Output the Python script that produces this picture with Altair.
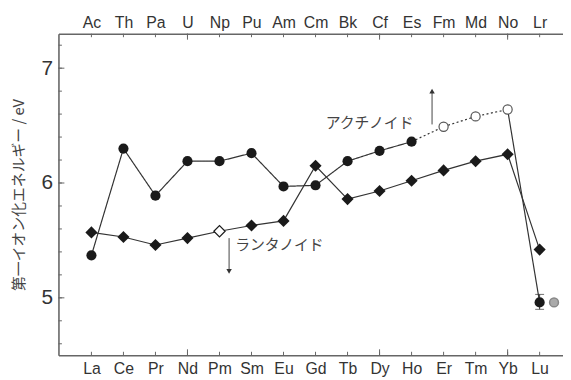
import json
import altair as alt
import pandas as pd

# ---- data ----
lan_names = ["La", "Ce", "Pr", "Nd", "Pm", "Sm", "Eu", "Gd", "Tb", "Dy", "Ho", "Er", "Tm", "Yb", "Lu"]
act_names = ["Ac", "Th", "Pa", "U", "Np", "Pu", "Am", "Cm", "Bk", "Cf", "Es", "Fm", "Md", "No", "Lr"]
lan_ie = [5.57, 5.53, 5.46, 5.52, 5.58, 5.63, 5.67, 6.15, 5.86, 5.93, 6.02, 6.11, 6.19, 6.25, 5.42]
act_ie = [5.37, 6.30, 5.89, 6.19, 6.19, 6.26, 5.97, 5.98, 6.19, 6.28, 6.36, 6.49, 6.58, 6.64, 4.96]
lan_open = ["Pm"]
act_open = ["Fm", "Md", "No"]
lr_err = [4.90, 5.03]
lr_other = [14.45, 4.96]
y_tick_labels = [5, 6, 7]
y_title = "第一イオン化エネルギー / eV"

# annotations (data units)
act_label = {"text": "アクチノイド", "x": 10.06, "y": 6.52}
lan_label = {"text": "ランタノイド", "x": 4.49, "y": 5.46}
act_arrow = {"x": 10.64, "y": 6.51, "y2": 6.80}
lan_arrow = {"x": 4.30, "y": 5.52, "y2": 5.23}

W, H = 510, 325
xscale = alt.Scale(domain=[-1.03, 14.73], nice=False, zero=False)
yscale = alt.Scale(domain=[4.5, 7.3], nice=False, zero=False)
INK = "#1a1a1a"
LINE = "#333333"
AX = "#666666"
LABEL_FONT = "Liberation Sans"
JP_FONT = "Noto Sans CJK JP"

idx = list(range(len(lan_names)))
lan = pd.DataFrame({"i": idx, "ie": lan_ie, "name": lan_names})
lan["open"] = lan["name"].isin(lan_open)

seg_rows = []
for i in range(0, 11):
    seg_rows.append({"i": i, "ie": act_ie[i], "seg": "a", "style": "solid"})
for i in range(10, 14):
    seg_rows.append({"i": i, "ie": act_ie[i], "seg": "b", "style": "dotted"})
for i in range(13, 15):
    seg_rows.append({"i": i, "ie": act_ie[i], "seg": "c", "style": "solid"})
act_seg = pd.DataFrame(seg_rows)

act = pd.DataFrame({"i": idx, "ie": act_ie, "name": act_names})
act["open"] = act["name"].isin(act_open)

bottom_expr = json.dumps(lan_names) + "[datum.value]"
top_expr = json.dumps(act_names) + "[datum.value]"

x_bottom = alt.Axis(orient="bottom", values=idx, labelExpr=bottom_expr, ticks=False, grid=False,
                    domainColor=AX, domainWidth=1.6, labelFont=LABEL_FONT, labelFontSize=16,
                    labelColor="#333", labelPadding=5, title=None)
x_top = alt.Axis(orient="top", values=idx, labelExpr=top_expr, ticks=False, grid=False,
                 domainColor=AX, domainWidth=1.6, labelFont=LABEL_FONT, labelFontSize=16,
                 labelColor="#333", labelPadding=3, title=None)
y_axis = alt.Axis(orient="left", values=y_tick_labels, labels=True, ticks=False, grid=False,
                  domainColor=AX, domainWidth=1.6,
                  labelFont=LABEL_FONT, labelFontSize=21, labelColor="#333", labelPadding=6,
                  title=y_title, titleFont=JP_FONT, titleFontSize=15,
                  titleFontWeight="normal", titleColor="#444", titlePadding=15)

X = lambda ax=None: alt.X("i:Q", scale=xscale, axis=ax)
Y = lambda ax=None: alt.Y("ie:Q", scale=yscale, axis=ax)

lan_line = alt.Chart(lan).mark_line(color=LINE, strokeWidth=1.2).encode(x=X(x_bottom), y=Y(y_axis))
act_line = alt.Chart(act_seg).mark_line(color=LINE, strokeWidth=1.2).encode(
    x=X(x_top), y=Y(), detail="seg:N",
    strokeDash=alt.StrokeDash("style:N", scale=alt.Scale(domain=["solid", "dotted"], range=[[1, 0], [2, 2.5]]), legend=None))

lan_fill = alt.Chart(lan[~lan["open"]]).mark_point(shape="diamond", filled=True, size=150, color=INK, opacity=1).encode(x=X(), y=Y())
lan_hollow = alt.Chart(lan[lan["open"]]).mark_point(shape="diamond", filled=True, size=130, fill="white", stroke=INK, strokeWidth=1.2, opacity=1).encode(x=X(), y=Y())
act_fill = alt.Chart(act[~act["open"]]).mark_point(shape="circle", filled=True, size=105, color=INK, opacity=1).encode(x=X(), y=Y())
act_hollow = alt.Chart(act[act["open"]]).mark_point(shape="circle", filled=True, size=85, fill="white", stroke="#555", strokeWidth=1.2, opacity=1).encode(x=X(), y=Y())

err_df = pd.DataFrame({"i": [14], "lo": [lr_err[0]], "hi": [lr_err[1]]})
err_rule = alt.Chart(err_df).mark_rule(color=LINE, strokeWidth=1).encode(x=X(), y=alt.Y("lo:Q", scale=yscale, axis=None), y2="hi:Q")
caps = alt.Chart(pd.DataFrame({"i": [14, 14], "ie": lr_err})).mark_tick(orient="horizontal", size=9, thickness=1, color=LINE).encode(x=X(), y=Y())
other = alt.Chart(pd.DataFrame({"i": [lr_other[0]], "ie": [lr_other[1]]})).mark_point(
    shape="circle", filled=True, size=80, fill="#aaaaaa", stroke="#888888", strokeWidth=1.5, opacity=1).encode(x=X(), y=Y())

arr_df = pd.DataFrame([{"i": act_arrow["x"], "y": act_arrow["y"], "y2": act_arrow["y2"]},
                       {"i": lan_arrow["x"], "y": lan_arrow["y"], "y2": lan_arrow["y2"]}])
arr_rule = alt.Chart(arr_df).mark_rule(color="#444", strokeWidth=1).encode(x=X(), y=alt.Y("y:Q", scale=yscale, axis=None), y2="y2:Q")
heads = pd.DataFrame([{"i": act_arrow["x"], "ie": act_arrow["y2"], "shape": "triangle-up"},
                      {"i": lan_arrow["x"], "ie": lan_arrow["y2"], "shape": "triangle-down"}])
head_pts = alt.Chart(heads).mark_point(filled=True, size=30, color="#333", opacity=1).encode(
    x=X(), y=Y(), shape=alt.Shape("shape:N", scale=None))

txt_act = alt.Chart(pd.DataFrame([{"i": act_label["x"], "ie": act_label["y"], "t": act_label["text"]}])).mark_text(
    align="right", baseline="middle", font=JP_FONT, fontSize=15, color="#444").encode(x=X(), y=Y(), text="t:N")
txt_lan = alt.Chart(pd.DataFrame([{"i": lan_label["x"], "ie": lan_label["y"], "t": lan_label["text"]}])).mark_text(
    align="left", baseline="middle", font=JP_FONT, fontSize=15, color="#444").encode(x=X(), y=Y(), text="t:N")

# inward tick marks
long_ticks = [3, 9, 13]
bt = pd.DataFrame({"i": idx})
bottom_ticks = alt.Chart(bt).mark_rule(color=AX, strokeWidth=1).encode(x=X(), y=alt.value(H), y2=alt.value(H - 3.5))
bottom_long = alt.Chart(bt[bt["i"].isin(long_ticks)]).mark_rule(color=AX, strokeWidth=1).encode(
    x=X(), y=alt.value(H), y2=alt.value(H - 6))
top_ticks = alt.Chart(bt).mark_rule(color=AX, strokeWidth=1).encode(x=X(), y=alt.value(0), y2=alt.value(3.5))
top_long = alt.Chart(bt[bt["i"].isin(long_ticks)]).mark_rule(color=AX, strokeWidth=1).encode(x=X(), y=alt.value(0), y2=alt.value(6))
yt_vals = [round(4.6 + 0.2 * k, 1) for k in range(14)]
y_ticks = alt.Chart(pd.DataFrame({"ie": yt_vals})).mark_rule(color=AX, strokeWidth=1).encode(
    y=Y(), x=alt.value(0), x2=alt.value(3.5))
y_major = alt.Chart(pd.DataFrame({"ie": y_tick_labels})).mark_rule(color=AX, strokeWidth=1).encode(
    y=Y(), x=alt.value(0), x2=alt.value(6))

chart = alt.layer(
    lan_line, act_line,
    y_ticks, y_major, bottom_ticks, bottom_long, top_ticks, top_long,
    err_rule, caps,
    lan_fill, lan_hollow, act_fill, act_hollow, other,
    arr_rule, head_pts, txt_act, txt_lan,
).resolve_axis(x="independent", y="independent").properties(
    width=W, height=H,
    background="white",
    padding={"left": 51, "top": 24, "right": 0, "bottom": 22},
    autosize=alt.AutoSizeParams(type="none"),
).configure_view(stroke=None)

chart.save("out.html", embed_options={"renderer": "svg", "actions": False})
